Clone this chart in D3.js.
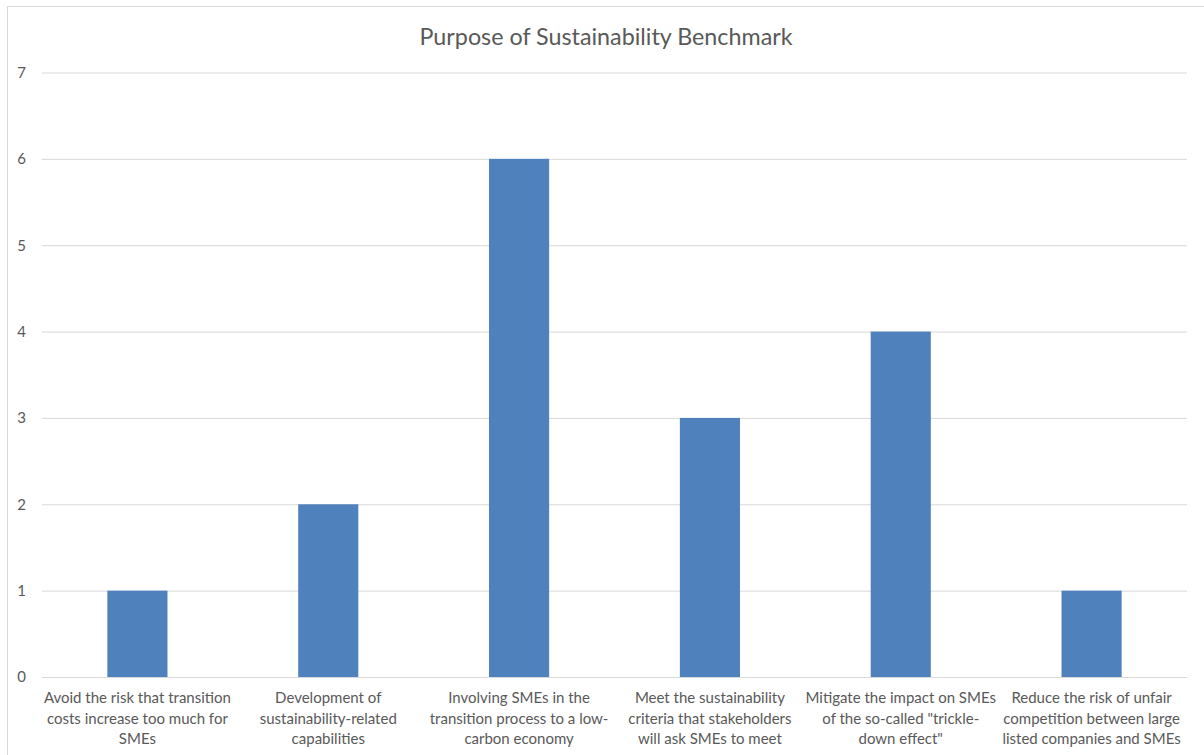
<!DOCTYPE html>
<html>
<head>
<meta charset="utf-8">
<script src="https://cdn.jsdelivr.net/npm/d3@7"></script>
<style>
  html, body { margin: 0; padding: 0; background: #fff; }
  svg { display: block; }
</style>
</head>
<body>
<svg id="chart" width="1204" height="755"></svg>
<script>
// Chart content
const chartTitle = "Purpose of Sustainability Benchmark";
const categories = [
  ["Avoid the risk that transition", "costs increase too much for", "SMEs"],
  ["Development of", "sustainability-related", "capabilities"],
  ["Involving SMEs in the", "transition process to a low-", "carbon economy"],
  ["Meet the sustainability", "criteria that stakeholders", "will ask SMEs to meet"],
  ["Mitigate the impact on SMEs", "of the so-called \"trickle-", "down effect\""],
  ["Reduce the risk of unfair", "competition between large", "listed companies and SMEs"]
];
const values = [1, 2, 6, 3, 4, 1];
const yTicks = [0, 1, 2, 3, 4, 5, 6, 7];

const svg = d3.select("#chart");
const font = "Lato, 'Open Sans', sans-serif";
const textColor = "#595959";

const plotLeft = 42, plotRight = 1187, plotTop = 72.5, plotBottom = 677;

// Outer chart frame
svg.append("rect")
  .attr("x", 7.5).attr("y", 6.5)
  .attr("width", 1204).attr("height", 760)
  .attr("fill", "#fff")
  .attr("stroke", "#d9d9d9")
  .attr("stroke-width", 1);

const x = d3.scaleBand()
  .domain(d3.range(categories.length))
  .range([plotLeft, plotRight])
  .paddingInner(0.685)
  .paddingOuter(0.3425);

const y = d3.scaleLinear().domain([0, 7]).range([plotBottom, plotTop]);

// Horizontal gridlines and y tick labels
const yAxis = d3.axisLeft(y)
  .tickValues(yTicks)
  .tickSize(-(plotRight - plotLeft))
  .tickPadding(14)
  .tickFormat(d3.format("d"));

const gy = svg.append("g")
  .attr("transform", `translate(${plotLeft},0)`)
  .call(yAxis);
gy.select(".domain").remove();
gy.selectAll(".tick line").attr("stroke", "#d9d9d9").attr("stroke-width", 1);
gy.selectAll(".tick text")
  .attr("fill", textColor)
  .attr("font-family", font)
  .attr("font-size", 15)
  .attr("x", -16);

// Bars
svg.append("g")
  .selectAll("rect")
  .data(values)
  .join("rect")
  .attr("x", (d, i) => x(i))
  .attr("y", d => y(d))
  .attr("width", x.bandwidth())
  .attr("height", d => y(0) - y(d))
  .attr("fill", "#4f81bd");

// Category labels (wrapped over three lines)
const labels = svg.append("g")
  .selectAll("text")
  .data(categories)
  .join("text")
  .attr("x", (d, i) => x(i) + x.bandwidth() / 2)
  .attr("y", 703)
  .attr("text-anchor", "middle")
  .attr("fill", textColor)
  .attr("font-family", font)
  .attr("font-size", 15);
labels.selectAll("tspan")
  .data(d => d)
  .join("tspan")
  .attr("x", function() { return d3.select(this.parentNode).attr("x"); })
  .attr("dy", (d, i) => i === 0 ? 0 : 20.7)
  .text(d => d);

// Title
svg.append("text")
  .attr("x", 606)
  .attr("y", 45)
  .attr("text-anchor", "middle")
  .attr("fill", textColor)
  .attr("font-family", font)
  .attr("font-size", 23.3)
  .text(chartTitle);
</script>
</body>
</html>
